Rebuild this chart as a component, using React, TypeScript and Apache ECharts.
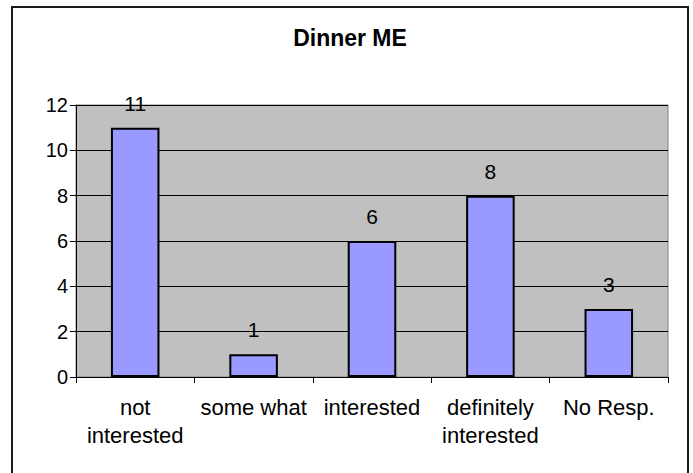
import React, { useEffect, useRef } from "react";
import * as echarts from "echarts";

const categories = ["not\ninterested", "some what", "interested", "definitely\ninterested", "No Resp."];
const values = [11, 1, 6, 8, 3];
const yTicks = { min: 0, max: 12, interval: 2 };
const titleText = "Dinner ME";

export default function App() {
  const ref = useRef<HTMLDivElement>(null);
  useEffect(() => {
    document.body.style.margin = "0";
    const chart = echarts.init(ref.current!, null, { renderer: "svg" });
    const font = "Liberation Sans, Arial, sans-serif";
    chart.setOption({
      animation: false,
      backgroundColor: "#ffffff",
      textStyle: { fontFamily: font },
      graphic: [
        {
          type: "rect",
          shape: { x: 12, y: 7, width: 676, height: 475 },
          style: { fill: "none", stroke: "#1a1a1a", lineWidth: 2 },
          silent: true,
        },
        {
          type: "text",
          x: 350,
          y: 38,
          style: {
            text: titleText,
            fontSize: 23,
            fontWeight: "bold",
            fontFamily: font,
            fill: "#000",
            align: "center",
            verticalAlign: "middle",
          },
        },
      ],
      grid: {
        left: 76,
        top: 105,
        width: 592,
        height: 272,
        show: true,
        backgroundColor: "#C0C0C0",
        borderColor: "#808080",
        borderWidth: 1,
      },
      xAxis: {
        type: "category",
        data: categories,
        axisLine: { show: true, lineStyle: { color: "#000", width: 1 } },
        axisTick: { show: true, length: 6, lineStyle: { color: "#000" } },
        axisLabel: {
          interval: 0,
          color: "#000",
          fontSize: 22,
          lineHeight: 28,
          margin: 16,
          fontFamily: font,
        },
      },
      yAxis: {
        type: "value",
        min: yTicks.min,
        max: yTicks.max,
        interval: yTicks.interval,
        axisLine: { show: true, lineStyle: { color: "#000", width: 1 } },
        axisTick: { show: true, length: 6, lineStyle: { color: "#000" } },
        axisLabel: { color: "#000", fontSize: 20, margin: 8, fontFamily: font },
        splitLine: { show: true, lineStyle: { color: "#000", width: 1 } },
      },
      series: [
        {
          type: "bar",
          data: values,
          barWidth: "41%",
          itemStyle: { color: "#9999FF", borderColor: "#000", borderWidth: 2 },
          label: {
            show: true,
            position: "top",
            distance: 14,
            color: "#000",
            fontSize: 21,
            fontFamily: font,
          },
        },
      ],
    });
    return () => chart.dispose();
  }, []);
  return <div ref={ref} style={{ width: 693, height: 473 }} />;
}
